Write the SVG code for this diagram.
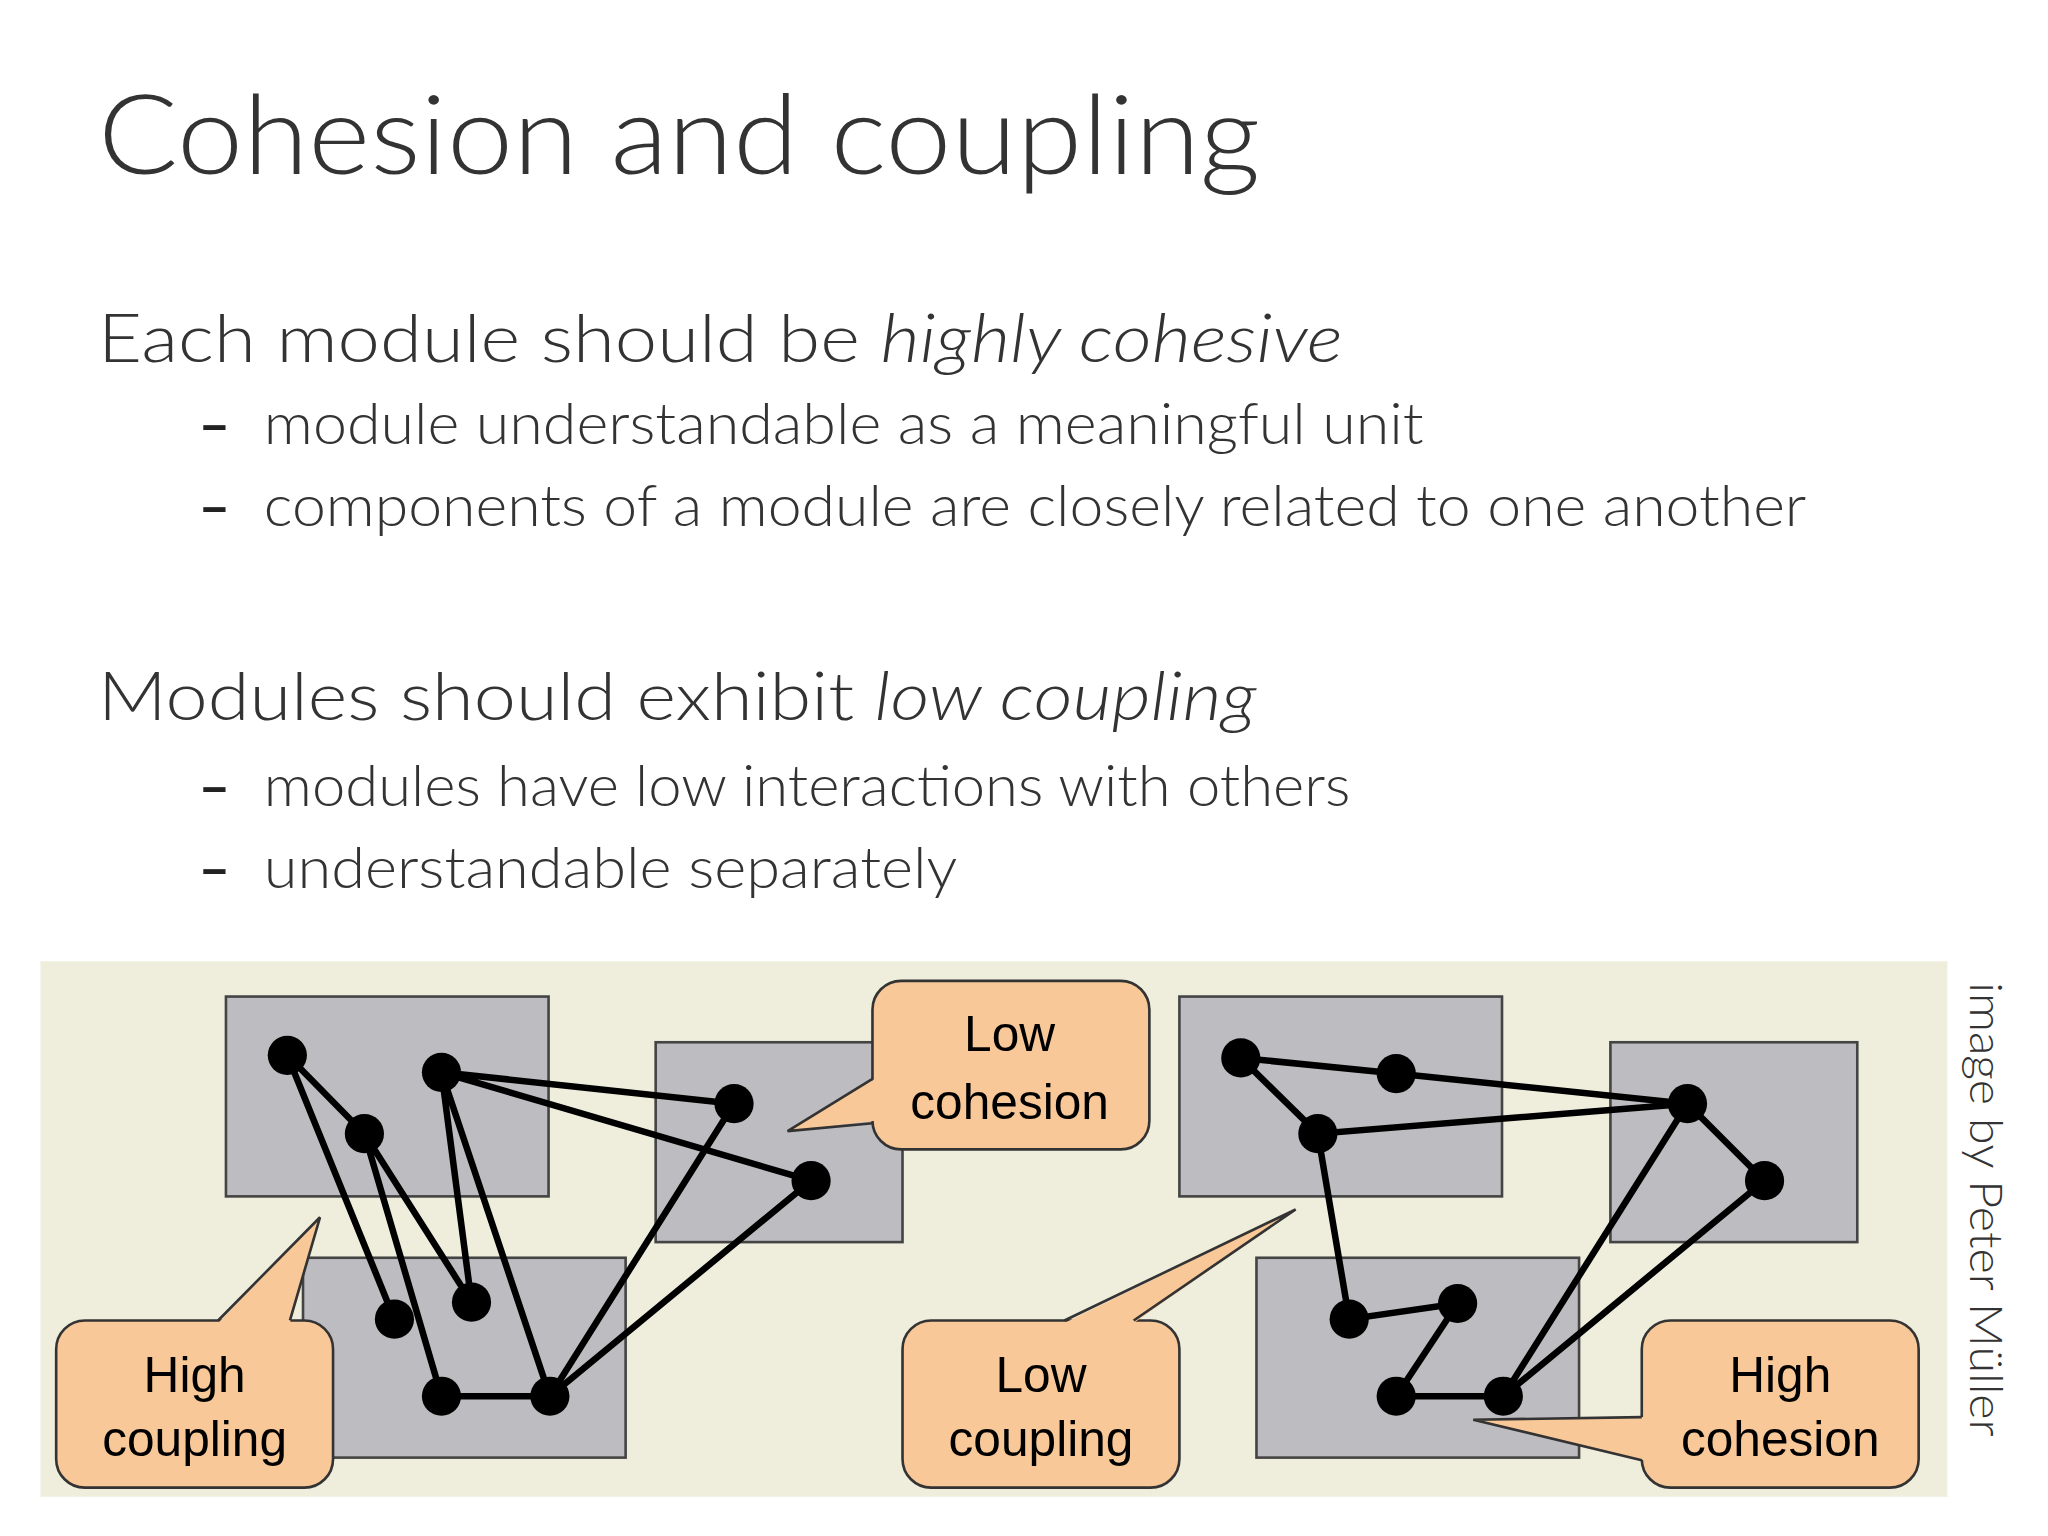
<svg xmlns="http://www.w3.org/2000/svg" width="2048" height="1536" viewBox="0 0 2048 1536">
<style>
.t{font-family:Lato,"Open Sans",sans-serif;font-weight:300;fill:#333}
.d{font-family:Lato,sans-serif;font-weight:700;font-size:42px;fill:#222}
.box{fill:#bdbcc0;stroke:#444;stroke-width:2}
.e{stroke:#000;stroke-width:5;stroke-linecap:round;fill:none}
.n{fill:#000}
.cb{fill:#f9c898;stroke:#333;stroke-width:2}
.cf{fill:#f9c898}
.cs{fill:none;stroke:#333;stroke-width:2}
.ct{font-family:"Liberation Sans",Arial,sans-serif;font-size:38px;fill:#000;text-anchor:middle}
</style>
<rect width="2048" height="1536" fill="#fff"/>
<g transform="scale(1.3061)">
<g id="text">
<text class="t" x="75" y="133" font-size="84" textLength="890" lengthAdjust="spacingAndGlyphs">Cohesion and coupling</text>
<text class="t" x="75" y="277" font-size="52" textLength="953" lengthAdjust="spacingAndGlyphs">Each module should be <tspan font-style="italic">highly cohesive</tspan></text>
<text class="d" x="152" y="340">–</text>
<text class="t" x="202" y="340" font-size="43" textLength="888" lengthAdjust="spacingAndGlyphs">module understandable as a meaningful unit</text>
<text class="d" x="152" y="403">–</text>
<text class="t" x="202" y="403" font-size="43" textLength="1181" lengthAdjust="spacingAndGlyphs">components of a module are closely related to one another</text>
<text class="t" x="75" y="551" font-size="52" textLength="887" lengthAdjust="spacingAndGlyphs">Modules should exhibit  <tspan font-style="italic">low coupling</tspan></text>
<text class="d" x="152" y="617">–</text>
<text class="t" x="202" y="617" font-size="43" textLength="832" lengthAdjust="spacingAndGlyphs">modules have low interactions with others</text>
<text class="d" x="152" y="680">–</text>
<text class="t" x="202" y="680" font-size="43" textLength="531" lengthAdjust="spacingAndGlyphs">understandable separately</text>
<text class="t" transform="translate(1508,752) rotate(90)" font-size="35" fill="#444" textLength="348" lengthAdjust="spacingAndGlyphs">image by Peter Müller</text>
</g>
<rect x="31" y="736" width="1460" height="410" fill="#efeedd"/>
<g id="modules">
<rect class="box" x="173" y="763" width="247" height="153"/>
<rect class="box" x="502" y="798" width="189" height="153"/>
<rect class="box" x="232" y="963" width="247" height="153"/>
<rect class="box" x="903" y="763" width="247" height="153"/>
<rect class="box" x="1233" y="798" width="189" height="153"/>
<rect class="box" x="962" y="963" width="247" height="153"/>
</g>
<g id="connectors">
<path class="e" d="M220,808L279,868M220,808L302,1010M279,868L361,997M279,868L338,1069M338,821L361,997M338,821L421,1069M338,1069L421,1069M421,1069L562,845M421,1069L621,904M338,821L562,845M338,821L621,904"/>
<path class="e" d="M950,810L1069,822L1292,845M950,810L1009,868L1292,845M1009,868L1033,1010L1116,998L1069,1069L1151,1069L1292,845M1151,1069L1351,904L1292,845"/>
</g>
<g id="nodes">
<circle class="n" cx="220" cy="808" r="15"/><circle class="n" cx="279" cy="868" r="15"/><circle class="n" cx="338" cy="821" r="15"/><circle class="n" cx="562" cy="845" r="15"/><circle class="n" cx="621" cy="904" r="15"/><circle class="n" cx="302" cy="1010" r="15"/><circle class="n" cx="361" cy="997" r="15"/><circle class="n" cx="338" cy="1069" r="15"/><circle class="n" cx="421" cy="1069" r="15"/>
<circle class="n" cx="950" cy="810" r="15"/><circle class="n" cx="1069" cy="822" r="15"/><circle class="n" cx="1009" cy="868" r="15"/><circle class="n" cx="1292" cy="845" r="15"/><circle class="n" cx="1351" cy="904" r="15"/><circle class="n" cx="1033" cy="1010" r="15"/><circle class="n" cx="1116" cy="998" r="15"/><circle class="n" cx="1069" cy="1069" r="15"/><circle class="n" cx="1151" cy="1069" r="15"/>
</g>
<g id="callout-low-cohesion">
<rect class="cb" x="668" y="751" width="212" height="129" rx="22"/>
<polygon class="cf" points="670,826 603,866 670,858"/>
<polyline class="cs" points="668,826 603,866 668,860"/>
<text class="ct" x="773" y="805">Low</text><text class="ct" x="773" y="857">cohesion</text>
</g>
<g id="callout-high-coupling">
<rect class="cb" x="43" y="1011" width="212" height="128" rx="22"/>
<polygon class="cf" points="167,1013 245,932 222,1013"/>
<polyline class="cs" points="167,1011 245,932 222,1011"/>
<text class="ct" x="149" y="1066">High</text><text class="ct" x="149" y="1115">coupling</text>
</g>
<g id="callout-low-coupling">
<rect class="cb" x="691" y="1011" width="212" height="128" rx="22"/>
<polygon class="cf" points="815,1013 992,926 868,1013"/>
<polyline class="cs" points="815,1011 992,926 868,1011"/>
<text class="ct" x="797" y="1066">Low</text><text class="ct" x="797" y="1115">coupling</text>
</g>
<g id="callout-high-cohesion">
<rect class="cb" x="1257" y="1011" width="212" height="128" rx="22"/>
<polygon class="cf" points="1259,1085 1128,1087 1259,1118"/>
<polyline class="cs" points="1257,1085 1128,1087 1257,1118"/>
<text class="ct" x="1363" y="1066">High</text><text class="ct" x="1363" y="1115">cohesion</text>
</g>
</g>
</svg>
